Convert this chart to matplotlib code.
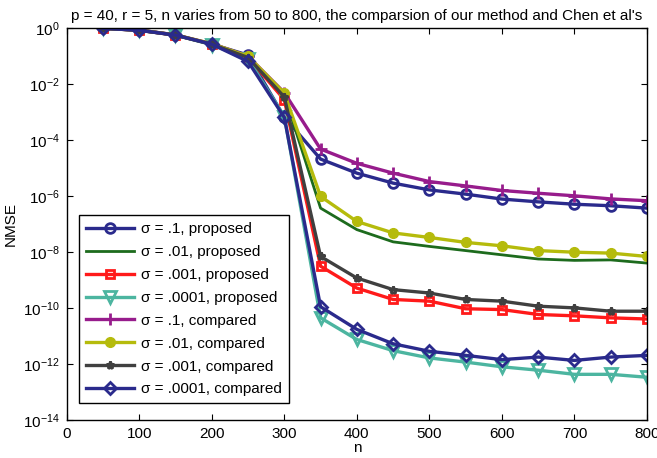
import numpy as np
from matplotlib import pyplot as plt
from matplotlib.ticker import LogLocator, NullLocator

plt.rcParams['font.family'] = ['Liberation Sans', 'DejaVu Sans']
plt.rcParams['mathtext.fontset'] = 'custom'
plt.rcParams['mathtext.rm'] = 'Liberation Sans'

n = np.arange(50, 801, 50)

# NMSE (log scale)
prop_1 = [1.0, 0.87, 0.58, 0.27, 0.11, 6.6e-4, 2.1e-5, 6.6e-6, 2.9e-6, 1.66e-6,
          1.17e-6, 7.8e-7, 6.2e-7, 5.1e-7, 4.5e-7, 3.7e-7]
prop_01 = [1.0, 0.85, 0.57, 0.27, 0.09, 4.0e-3, 3.7e-7, 6.3e-8, 2.3e-8, 1.58e-8,
           1.12e-8, 7.9e-9, 5.6e-9, 5.0e-9, 5.2e-9, 4.0e-9]
prop_001 = [1.0, 0.85, 0.57, 0.27, 0.09, 2.8e-3, 3.1e-9, 5.1e-10, 2.0e-10, 1.74e-10,
            9.3e-11, 8.7e-11, 5.8e-11, 5.2e-11, 4.4e-11, 4.0e-11]
prop_0001 = [1.0, 0.85, 0.57, 0.26, 0.08, 7.0e-4, 4.4e-11, 7.4e-12, 2.95e-12, 1.62e-12,
             1.15e-12, 7.8e-13, 5.9e-13, 4.2e-13, 4.2e-13, 3.3e-13]
comp_1 = [1.0, 0.86, 0.58, 0.28, 0.1, 5.0e-3, 4.8e-5, 1.48e-5, 6.6e-6, 3.3e-6,
          2.3e-6, 1.58e-6, 1.26e-6, 1.02e-6, 7.9e-7, 6.8e-7]
comp_01 = [1.0, 0.86, 0.58, 0.28, 0.1, 4.8e-3, 9.7e-7, 1.23e-7, 4.8e-8, 3.3e-8,
           2.2e-8, 1.66e-8, 1.12e-8, 9.8e-9, 9.1e-9, 6.9e-9]
comp_001 = [1.0, 0.85, 0.57, 0.27, 0.09, 3.5e-3, 6.9e-9, 1.17e-9, 4.5e-10, 3.4e-10,
            2.0e-10, 1.74e-10, 1.15e-10, 1.0e-10, 7.6e-11, 7.6e-11]
comp_0001 = [1.0, 0.85, 0.57, 0.27, 0.065, 6.5e-4, 1.1e-10, 1.7e-11, 5.2e-12, 2.8e-12,
             2.0e-12, 1.41e-12, 1.74e-12, 1.32e-12, 1.74e-12, 2.0e-12]

blue = '#2a2a8c'
series = [
    (prop_1, 'σ = .1, proposed', blue, 'o', 'none'),
    (prop_01, 'σ = .01, proposed', '#1d6b1d', None, 'none'),
    (prop_001, 'σ = .001, proposed', '#ff1a1a', 's', 'none'),
    (prop_0001, 'σ = .0001, proposed', '#4cb5a0', 'v', 'none'),
    (comp_1, 'σ = .1, compared', '#971c8c', '+', 'none'),
    (comp_01, 'σ = .01, compared', '#b5bb0c', 'o', 'full'),
    (comp_001, 'σ = .001, compared', '#404040', '*', 'none'),
    (comp_0001, 'σ = .0001, compared', blue, 'D', 'none'),
]

fig = plt.figure(figsize=(6.57, 4.58), dpi=100)
ax = fig.add_axes([0.1015, 0.0836, 0.8833, 0.8546])

for vals, lab, col, mk, fill in series:
    ms = 7
    if mk == 'D':
        ms = 6.5
    elif mk == 's':
        ms = 6
    elif mk == '*':
        ms = 6
    elif mk == '+':
        ms = 8
    elif mk == 'v':
        ms = 8
    lw = 2.0 if mk is None else 2.4
    if fill == 'full':
        ax.plot(n, vals, color=col, marker=mk, markersize=ms, lw=lw, label=lab)
    else:
        ax.plot(n, vals, color=col, marker=mk, markersize=ms, lw=lw,
                markerfacecolor='none', markeredgewidth=2, label=lab)

ax.set_yscale('log')
ax.set_xlim(0, 800)
ax.set_ylim(1e-14, 1)
ax.set_xticks(np.arange(0, 801, 100))
ax.yaxis.set_major_locator(LogLocator(base=100.0))
ax.yaxis.set_minor_locator(NullLocator())
ax.tick_params(direction='in', top=True, right=True, labelsize=11, length=4, pad=5)
for s in ax.spines.values():
    s.set_linewidth(1.0)

ax.set_xlabel('n', fontsize=11, labelpad=0)
ax.set_ylabel('NMSE', fontsize=11, labelpad=4)
ax.set_title("p = 40, r = 5, n varies from 50 to 800, the comparsion of our method and Chen et al's",
             fontsize=11, pad=6)

leg = ax.legend(loc='lower left', bbox_to_anchor=(0.022, 0.042), borderaxespad=0,
                fontsize=11, fancybox=False, framealpha=1, edgecolor='black',
                handlelength=3.1, handletextpad=0.5, labelspacing=0.58, borderpad=0.45)
leg.get_frame().set_linewidth(1.0)

plt.savefig('out.png', dpi=100)
